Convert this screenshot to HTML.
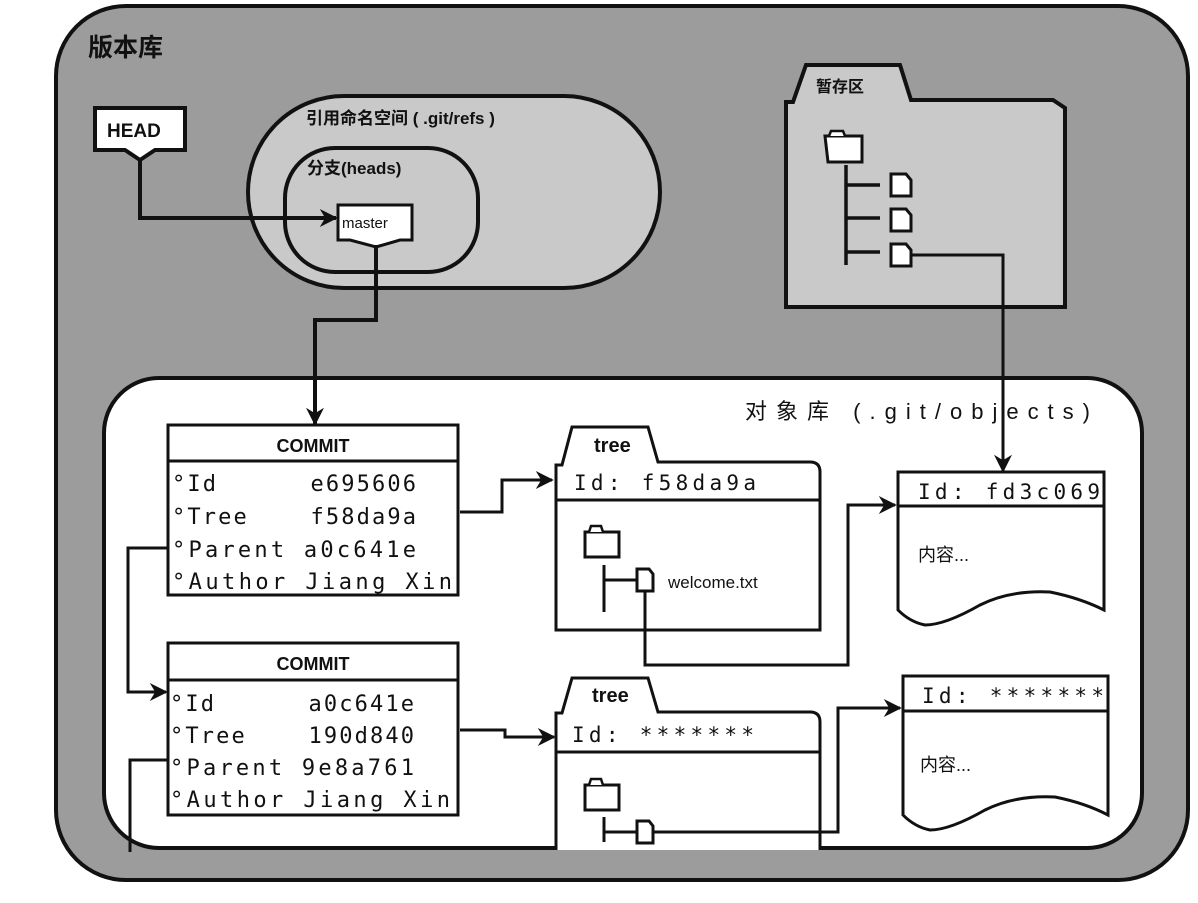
<!DOCTYPE html>
<html><head><meta charset="utf-8"><style>
html,body{margin:0;padding:0;background:#fff;}
svg{display:block;}
.mono{font-family:"DejaVu Sans Mono","Liberation Mono",monospace;}
.sans{font-family:"Liberation Sans","Noto Sans CJK SC",sans-serif;}
</style></head><body>
<svg width="1198" height="903" viewBox="0 0 1198 903" xmlns="http://www.w3.org/2000/svg">
<defs>
<marker id="ar" viewBox="0 0 10 10" refX="9" refY="5" markerWidth="20" markerHeight="18" orient="auto" markerUnits="userSpaceOnUse">
<path d="M0,0 L10,5 L0,10 L3,5 z" fill="#111"/></marker>
</defs>
<rect x="56" y="6" width="1132" height="874" rx="70" fill="#9c9c9c" stroke="#111" stroke-width="4"/>
<text x="88" y="56" class="sans" font-size="25" font-weight="bold" fill="#111">版本库</text>

<rect x="248" y="96" width="412" height="192" rx="96" fill="#c9c9c9" stroke="#111" stroke-width="4"/>
<text x="306" y="124" class="sans" font-size="17" font-weight="bold" fill="#111">引用命名空间 ( .git/refs )</text>
<rect x="285" y="148" width="193" height="124" rx="50" fill="#c9c9c9" stroke="#111" stroke-width="4"/>
<text x="307" y="174" class="sans" font-size="17" font-weight="bold" fill="#111">分支(heads)</text>
<path d="M338,205 H412 V240 L400,240 L376,247 L350,240 L338,240 Z" fill="#fff" stroke="#111" stroke-width="3"/>
<text x="342" y="228" class="sans" font-size="15" fill="#111">master</text>

<path d="M95,108 H185 V150 L155,150 L140,160 L125,150 L95,150 Z" fill="#fff" stroke="#111" stroke-width="4"/>
<text x="107" y="137" class="sans" font-size="19" font-weight="bold" fill="#111">HEAD</text>
<path d="M140,160 V218 H336" fill="none" stroke="#111" stroke-width="4" marker-end="url(#ar)"/>

<path d="M786,102 L793,102 L806,65 L900,65 L911,100 L1053,100 L1065,108 V307 H786 Z" fill="#c9c9c9" stroke="#111" stroke-width="4"/>
<text x="816" y="92" class="sans" font-size="16" font-weight="bold" fill="#111">暂存区</text>
<path d="M825,136 H862 V162 H828 Z" fill="#fff" stroke="#111" stroke-width="3"/>
<path d="M829,136 L831,131 H843 L845,136" fill="#fff" stroke="#111" stroke-width="2.5"/>
<path d="M846,165 V265 M846,185 H880 M846,218 H880 M846,252 H880" stroke="#111" stroke-width="3.5" fill="none"/>
<path d="M891,174 H906 L911,180 V196 H891 Z M891,209 H906 L911,215 V231 H891 Z M891,244 H906 L911,250 V266 H891 Z" fill="#fff" stroke="#111" stroke-width="3"/>

<rect x="104" y="378" width="1038" height="470" rx="55" fill="#fff" stroke="#111" stroke-width="4"/>
<text x="745" y="419" class="sans" font-size="22" fill="#111" textLength="345">对象库 (.git/objects)</text>

<path d="M376,245 V320 H315 V424" fill="none" stroke="#111" stroke-width="4" marker-end="url(#ar)"/>
<path d="M912,255 H1003 V471" fill="none" stroke="#111" stroke-width="3" marker-end="url(#ar)"/>

<rect x="168" y="425" width="290" height="170" fill="#fff" stroke="#111" stroke-width="3"/>
<line x1="168" y1="461" x2="458" y2="461" stroke="#111" stroke-width="3"/>
<text x="313" y="452" text-anchor="middle" class="sans" font-size="18" font-weight="bold" fill="#111">COMMIT</text>
<g class="mono" font-size="22" fill="#111">
<text x="172" y="491" xml:space="preserve" textLength="244">°Id      e695606</text>
<text x="172" y="524" xml:space="preserve" textLength="244">°Tree    f58da9a</text>
<text x="172" y="557" xml:space="preserve" textLength="244">°Parent a0c641e</text>
<text x="172" y="589" xml:space="preserve" textLength="280">°Author Jiang Xin</text>
</g>
<rect x="168" y="643" width="290" height="172" fill="#fff" stroke="#111" stroke-width="3"/>
<line x1="168" y1="680" x2="458" y2="680" stroke="#111" stroke-width="3"/>
<text x="313" y="670" text-anchor="middle" class="sans" font-size="18" font-weight="bold" fill="#111">COMMIT</text>
<g class="mono" font-size="22" fill="#111">
<text x="170" y="711" xml:space="preserve" textLength="244">°Id      a0c641e</text>
<text x="170" y="743" xml:space="preserve" textLength="244">°Tree    190d840</text>
<text x="170" y="775" xml:space="preserve" textLength="244">°Parent 9e8a761</text>
<text x="170" y="807" xml:space="preserve" textLength="280">°Author Jiang Xin</text>
</g>
<path d="M168,548 H128 V692 H166" fill="none" stroke="#111" stroke-width="3" marker-end="url(#ar)"/>
<path d="M168,760 H130 V852" fill="none" stroke="#111" stroke-width="3"/>
<path d="M460,512 H502 V480 H552" fill="none" stroke="#111" stroke-width="3" marker-end="url(#ar)"/>
<path d="M460,730 H505 V737 H554" fill="none" stroke="#111" stroke-width="3" marker-end="url(#ar)"/>

<path d="M556,630 V465 L562,465 L572,427 H648 L658,462 H810 Q820,462 820,472 V630 Z" fill="#fff" stroke="#111" stroke-width="3"/>
<line x1="556" y1="500" x2="820" y2="500" stroke="#111" stroke-width="3"/>
<text x="594" y="452" class="sans" font-size="20" font-weight="bold" fill="#111">tree</text>
<text x="574" y="490" class="mono" font-size="21" fill="#111" textLength="182">Id: f58da9a</text>
<path d="M585,532 H619 V557 H585 Z" fill="#fff" stroke="#111" stroke-width="3"/>
<path d="M589,532 L591,526 H601 L603,532" fill="#fff" stroke="#111" stroke-width="2.5"/>
<path d="M604,565 V612 M604,580 H637" stroke="#111" stroke-width="3" fill="none"/>
<path d="M637,569 H649 L653,574 V591 H637 Z" fill="#fff" stroke="#111" stroke-width="3"/>
<text x="668" y="588" class="sans" font-size="17" fill="#111">welcome.txt</text>
<path d="M645,591 V665 H848 V505 H895" fill="none" stroke="#111" stroke-width="3" marker-end="url(#ar)"/>

<path d="M556,850 V713 L562,713 L572,678 H648 L658,712 H810 Q820,712 820,722 V850" fill="#fff" stroke="#111" stroke-width="3"/>
<line x1="556" y1="752" x2="820" y2="752" stroke="#111" stroke-width="3"/>
<text x="592" y="702" class="sans" font-size="20" font-weight="bold" fill="#111">tree</text>
<text x="572" y="742" class="mono" font-size="21" fill="#111" textLength="182">Id: *******</text>
<path d="M585,785 H619 V810 H585 Z" fill="#fff" stroke="#111" stroke-width="3"/>
<path d="M589,785 L591,779 H601 L603,785" fill="#fff" stroke="#111" stroke-width="2.5"/>
<path d="M604,817 V842 M604,832 H637" stroke="#111" stroke-width="3" fill="none"/>
<path d="M637,821 H649 L653,826 V843 H637 Z" fill="#fff" stroke="#111" stroke-width="3"/>
<path d="M653,832 H838 V708 H900" fill="none" stroke="#111" stroke-width="3" marker-end="url(#ar)"/>

<path d="M898,472 H1104 V610 Q1080,598 1050,592 Q1010,590 980,605 Q945,625 925,625 Q910,622 898,610 Z" fill="#fff" stroke="#111" stroke-width="3"/>
<line x1="898" y1="506" x2="1104" y2="506" stroke="#111" stroke-width="3"/>
<text x="918" y="499" class="mono" font-size="21" fill="#111" textLength="182">Id: fd3c069</text>
<text x="918" y="561" class="sans" font-size="18" fill="#111">内容...</text>
<path d="M903,676 H1108 V815 Q1085,803 1055,797 Q1015,795 985,810 Q950,830 930,830 Q915,827 903,815 Z" fill="#fff" stroke="#111" stroke-width="3"/>
<line x1="903" y1="711" x2="1108" y2="711" stroke="#111" stroke-width="3"/>
<text x="922" y="703" class="mono" font-size="21" fill="#111" textLength="182">Id: *******</text>
<text x="920" y="771" class="sans" font-size="18" fill="#111">内容...</text>
</svg>
</body></html>
